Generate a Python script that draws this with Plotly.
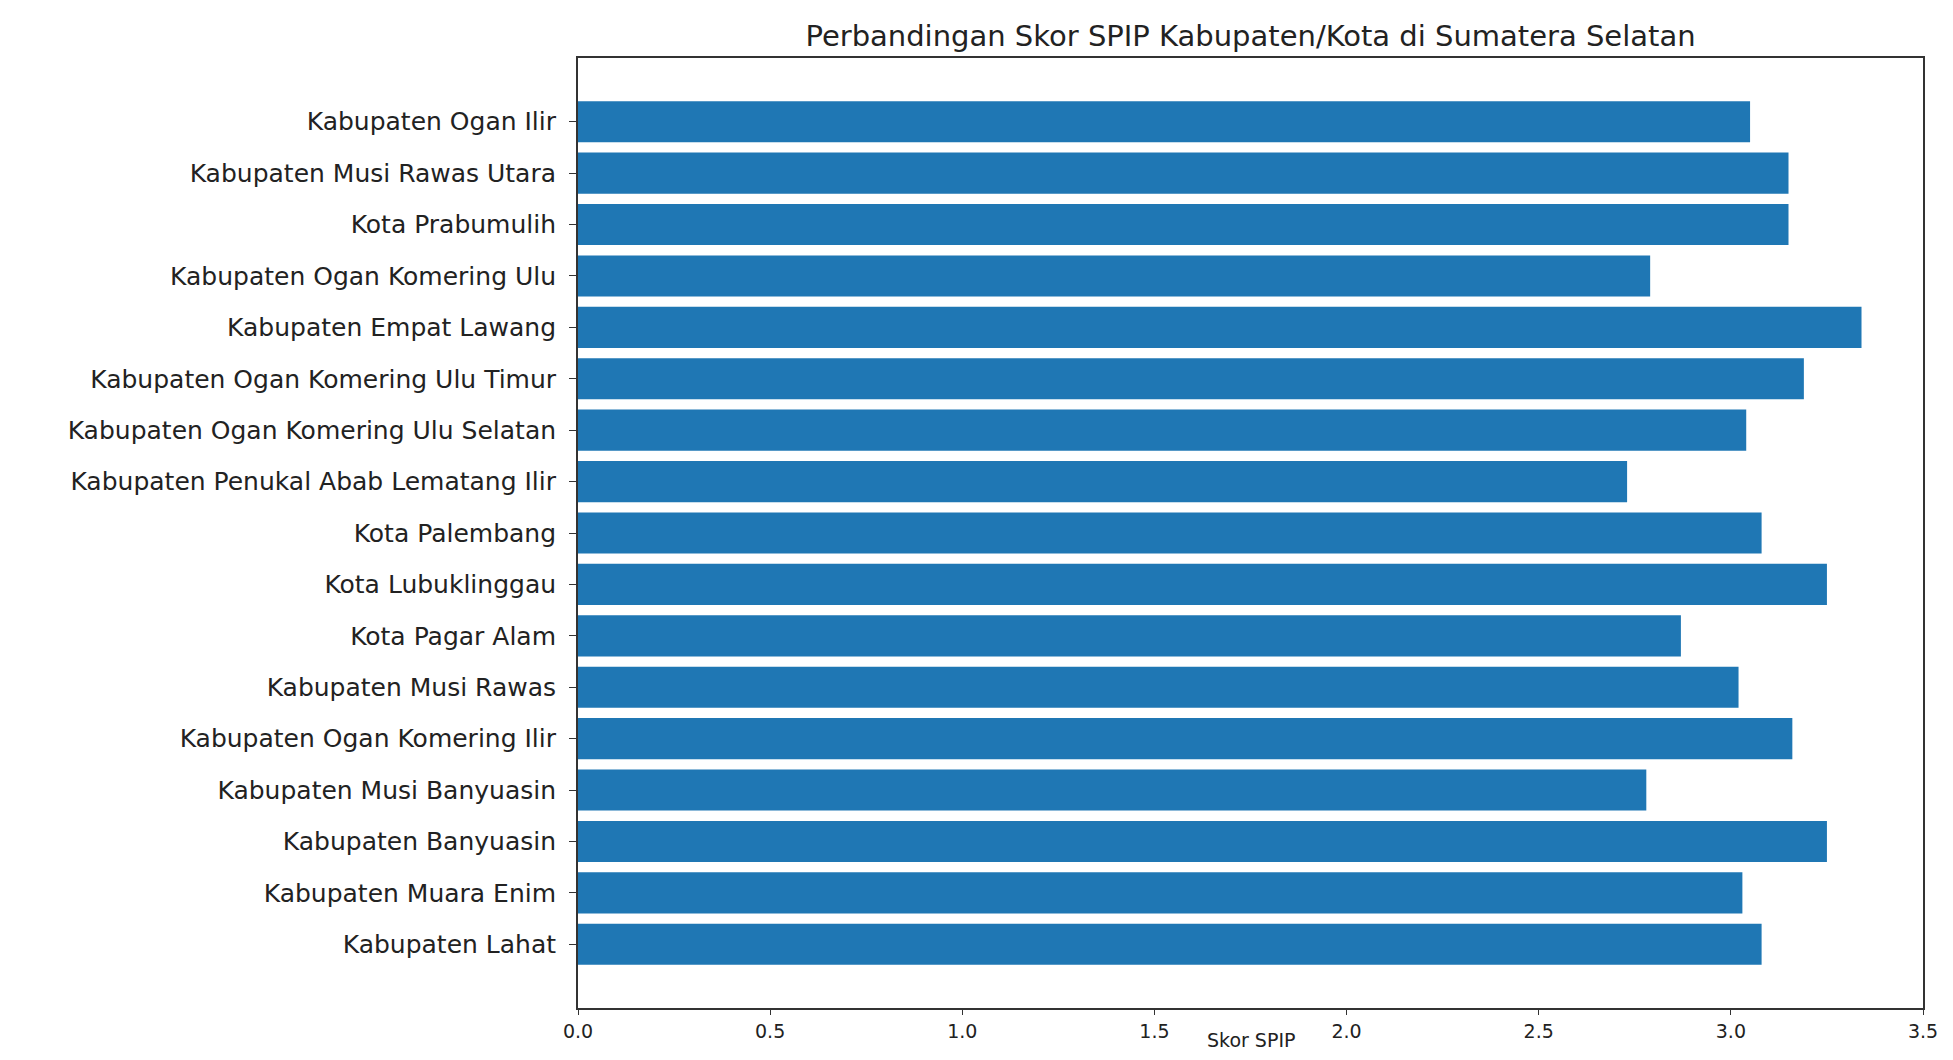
import plotly.graph_objects as go

# bottom-to-top order (as matplotlib barh plots them)
regions = [
    "Kabupaten Lahat",
    "Kabupaten Muara Enim",
    "Kabupaten Banyuasin",
    "Kabupaten Musi Banyuasin",
    "Kabupaten Ogan Komering Ilir",
    "Kabupaten Musi Rawas",
    "Kota Pagar Alam",
    "Kota Lubuklinggau",
    "Kota Palembang",
    "Kabupaten Penukal Abab Lematang Ilir",
    "Kabupaten Ogan Komering Ulu Selatan",
    "Kabupaten Ogan Komering Ulu Timur",
    "Kabupaten Empat Lawang",
    "Kabupaten Ogan Komering Ulu",
    "Kota Prabumulih",
    "Kabupaten Musi Rawas Utara",
    "Kabupaten Ogan Ilir",
]
scores = [3.08, 3.03, 3.25, 2.78, 3.16, 3.02, 2.87, 3.25, 3.08,
          2.73, 3.04, 3.19, 3.34, 2.79, 3.15, 3.15, 3.05]

x_ticks = [0.0, 0.5, 1.0, 1.5, 2.0, 2.5, 3.0, 3.5]

fig = go.Figure(go.Bar(
    x=scores, y=regions, orientation="h",
    marker=dict(color="#1f77b4", line=dict(width=0)),
    width=0.8,
))

# page body has an 8px margin; compensate so the plot lands where the reference has it
W, H = 1937, 1044
L, R, T, B = 570, 22, 50, 44
plot_h = H - T - B

fig.update_layout(
    width=W, height=H,
    margin=dict(l=L, r=R, t=T, b=B, autoexpand=False),
    paper_bgcolor="white", plot_bgcolor="white",
    font=dict(family="DejaVu Sans", color="#222222", size=24),
    showlegend=False,
    title=dict(
        text="Perbandingan Skor SPIP Kabupaten/Kota di Sumatera Selatan",
        x=(L + (W - L - R) / 2) / W, xanchor="center",
        y=1 - 28 / H, yanchor="middle", yref="container",
        font=dict(size=29, family="DejaVu Sans", color="#222222"),
    ),
    annotations=[dict(
        text="Skor SPIP", xref="paper", yref="paper",
        x=0.5, y=-(B + 1) / plot_h, xanchor="center", yanchor="bottom",
        showarrow=False, font=dict(size=19, color="#222222"),
    )],
)
fig.update_xaxes(
    range=[0, 3.5], tickvals=x_ticks, tickformat=".1f",
    showgrid=False, zeroline=False,
    showline=True, linecolor="#333333", linewidth=2, mirror=True,
    ticks="outside", ticklen=5, tickcolor="#333333",
    tickfont=dict(size=19),
)
fig.update_yaxes(
    type="category", categoryorder="array", categoryarray=regions,
    range=[-1.24, len(regions) - 1 + 1.24],
    showgrid=False, zeroline=False,
    showline=True, linecolor="#333333", linewidth=2, mirror=True,
    ticks="outside", ticklen=7, tickcolor="#333333",
    ticksuffix="\u00a0",
    tickfont=dict(size=25),
)

fig.write_html("out.html")
